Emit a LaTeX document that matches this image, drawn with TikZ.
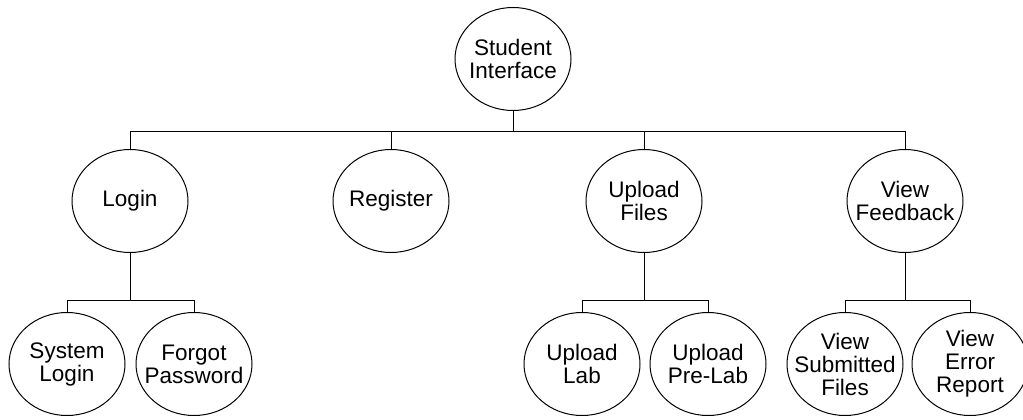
\documentclass[tikz,border=0pt]{standalone}
\usepackage{fontspec}
\setmainfont{Liberation Sans}
\usetikzlibrary{shapes.geometric}
\begin{document}
\begin{tikzpicture}[x=1pt,y=-1pt,
  oval/.style={ellipse,draw,line width=1pt,minimum width=116pt,minimum height=103pt,inner sep=0pt,
    label={[align=center,inner sep=0pt,font=\fontsize{22.5}{23}\selectfont]center:#1}},
  link/.style={line width=1pt}]
\useasboundingbox (0,0) rectangle (1023,420);
\node[oval={Student\\Interface}] (root) at (513,59) {};
\node[oval={Login}] (login) at (130,201) {};
\node[oval={Register}] (reg) at (391,201) {};
\node[oval={Upload\\Files}] (up) at (644,201) {};
\node[oval={View\\Feedback}] (fb) at (905,201) {};
\node[oval={System\\Login}] (sl) at (67,364) {};
\node[oval={Forgot\\Password}] (fp) at (194,364) {};
\node[oval={Upload\\Lab}] (ul) at (582,364) {};
\node[oval={Upload\\Pre-Lab}] (upl) at (708,364) {};
\node[oval={View\\Submitted\\Files}] (vsf) at (845,364) {};
\node[oval={View\\Error\\Report}] (ver) at (970,364) {};
\coordinate (bus) at (513,131);
\coordinate (lb) at (130,300);
\coordinate (ub) at (644,300);
\coordinate (fbb) at (905,300);
\draw[link] (root.south) -- (bus);
\draw[link] (login.north) -- (login.north |- bus) -- (fb.north |- bus) -- (fb.north);
\draw[link] (reg.north) -- (reg.north |- bus);
\draw[link] (up.north) -- (up.north |- bus);
\draw[link] (login.south) -- (lb);
\draw[link] (sl.north) -- (sl.north |- lb) -- (fp.north |- lb) -- (fp.north);
\draw[link] (up.south) -- (ub);
\draw[link] (ul.north) -- (ul.north |- ub) -- (upl.north |- ub) -- (upl.north);
\draw[link] (fb.south) -- (fbb);
\draw[link] (vsf.north) -- (vsf.north |- fbb) -- (ver.north |- fbb) -- (ver.north);
\end{tikzpicture}
\end{document}
